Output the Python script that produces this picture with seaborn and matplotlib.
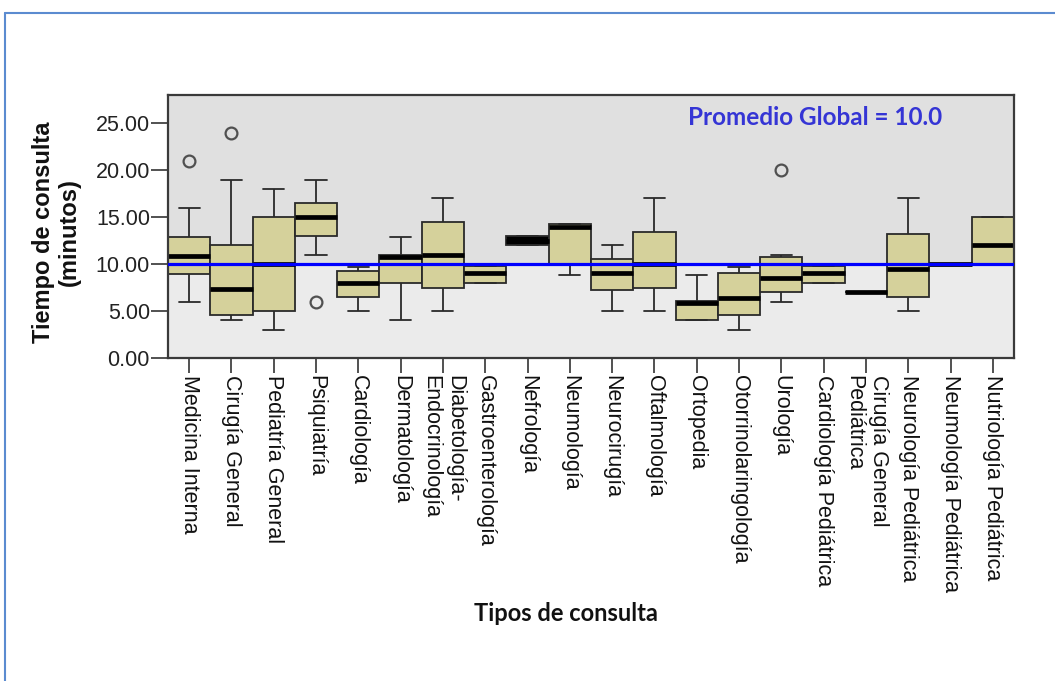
import pandas as pd
import matplotlib
matplotlib.use("Agg")
import matplotlib.pyplot as plt
from matplotlib.lines import Line2D
import seaborn as sns

# Datos (minutos por tipo de consulta)
categorias = ['Medicina Interna', 'Cirugía General', 'Pediatría General', 'Psiquiatría',
              'Cardiología', 'Dermatología', 'Diabetología-\nEndocrinología',
              'Gastroenterología', 'Nefrología', 'Neumología', 'Neurocirugía',
              'Oftalmología', 'Ortopedia', 'Otorrinolaringología', 'Urología',
              'Cardiología Pediátrica', 'Cirugía General\nPediátrica',
              'Neurología Pediátrica', 'Neumología Pediátrica', 'Nutriología Pediátrica']
bigote_inf = [6, 4, 3, 11, 5, 4, 5, 8, 12, 8.8, 5, 5, 4, 3, 6, 8, 7, 5, 10, 10]
q1 = [8.9, 4.6, 5, 13, 6.5, 8, 7.5, 8, 12, 10, 7.2, 7.5, 4, 4.6, 7, 8, 7, 6.5, 10, 10]
mediana = [10.9, 7.3, 10, 15, 8, 10.8, 11, 9, 12.5, 13.9, 9, 10, 5.9, 6.4, 8.5, 9, 7, 9.5, 10, 12]
q3 = [12.9, 12, 15, 16.5, 9.3, 11, 14.5, 9.8, 13, 14.3, 10.5, 13.4, 6.1, 9.1, 10.7, 9.8, 7, 13.2, 10, 15]
bigote_sup = [16, 19, 18, 19, 9.7, 12.9, 17, 9.8, 13, 14.3, 12, 17, 8.8, 9.7, 11, 9.8, 7, 17, 10, 15]
atipicos = [21, 24, None, 6, None, None, None, None, None, None, None, None, None, None,
            20, None, None, None, None, None]
promedio_global = 10.0
yticks = [0, 5, 10, 15, 20, 25]

# Construir muestras que reproducen los cuartiles leidos
filas = []
for i, cat in enumerate(categorias):
    vals = [bigote_inf[i], q1[i], q1[i], mediana[i], mediana[i], q3[i], q3[i], bigote_sup[i]]
    vals.append(atipicos[i] if atipicos[i] is not None else mediana[i])
    for v in vals:
        filas.append({'Tipo': cat, 'Tiempo': v})
df = pd.DataFrame(filas)

sns.set_theme(style='ticks')
plt.rcParams['font.family'] = ['Liberation Sans', 'DejaVu Sans']

fig = plt.figure(figsize=(10.55, 6.81), dpi=100)
ax = fig.add_axes([0.1592, 0.4743, 0.8019, 0.3862])

ax.set_facecolor('#EBEBEB')
ax.axhspan(promedio_global, 28, color='#E0E0E0', zorder=0, lw=0)

sns.boxplot(
    data=df, x='Tipo', y='Tiempo', order=categorias,
    color='#D5D19B', saturation=1, width=1.0, whis=1.5,
    linewidth=1.3, linecolor='#2A2A2A',
    medianprops=dict(color='black', linewidth=3.4),
    flierprops=dict(marker='o', markerfacecolor='none', markeredgecolor='#505050',
                    markersize=8.5, markeredgewidth=1.6),
    ax=ax,
)
# Nefrologia aparece como una banda negra
cajas = ax.containers[0].boxes
cajas[categorias.index('Nefrología')].set_facecolor('black')

ax.axhline(promedio_global, color='#0000FF', lw=2.3, zorder=10)
ax.text(0.615, 0.915, f'Promedio Global = {promedio_global:.1f}', transform=ax.transAxes,
        color='#3535D5', fontsize=17.5, fontweight='bold', family='Lato',
        ha='left', va='center')

ax.set_ylim(0, 28)
ax.set_xlim(-0.5, len(categorias) - 0.5)
ax.set_yticks(yticks)
ax.set_yticklabels([f'{t:.2f}' for t in yticks])
ax.tick_params(axis='y', length=12, width=1.2, color='#333333', labelsize=15.5,
               labelcolor='#222222', pad=1)
ax.tick_params(axis='x', length=11, width=1.2, color='#333333', labelsize=15.5,
               labelcolor='#111111', pad=1)
for lab in ax.get_xticklabels():
    lab.set_rotation(-90)
    lab.set_ha('center')
    lab.set_va('top')
    lab.set_multialignment('left')

for s in ax.spines.values():
    s.set_visible(True)
    s.set_color('#3A3A3A')
    s.set_linewidth(1.6)

ax.set_ylabel('Tiempo de consulta\n(minutos)', fontsize=17, fontweight='bold',
              color='#111111', linespacing=1.15)
ax.yaxis.set_label_coords(-0.132, 0.48)
ax.yaxis.label.set_ha('center')
ax.yaxis.label.set_va('center')

ax.set_xlabel('Tipos de consulta', fontsize=17, fontweight='bold', family='Lato',
              color='#111111')
ax.xaxis.set_label_coords(0.470, -0.973)
ax.xaxis.label.set_va('center')

# marco azul del documento
fig.add_artist(Line2D([5 / 1055, 5 / 1055], [0, 1 - 13 / 681], transform=fig.transFigure,
                      color='#5B8BD0', lw=1.5))
fig.add_artist(Line2D([5 / 1055, 1], [1 - 13 / 681, 1 - 13 / 681], transform=fig.transFigure,
                      color='#5B8BD0', lw=1.5))

fig.savefig('out.png', dpi=100, facecolor='white')
